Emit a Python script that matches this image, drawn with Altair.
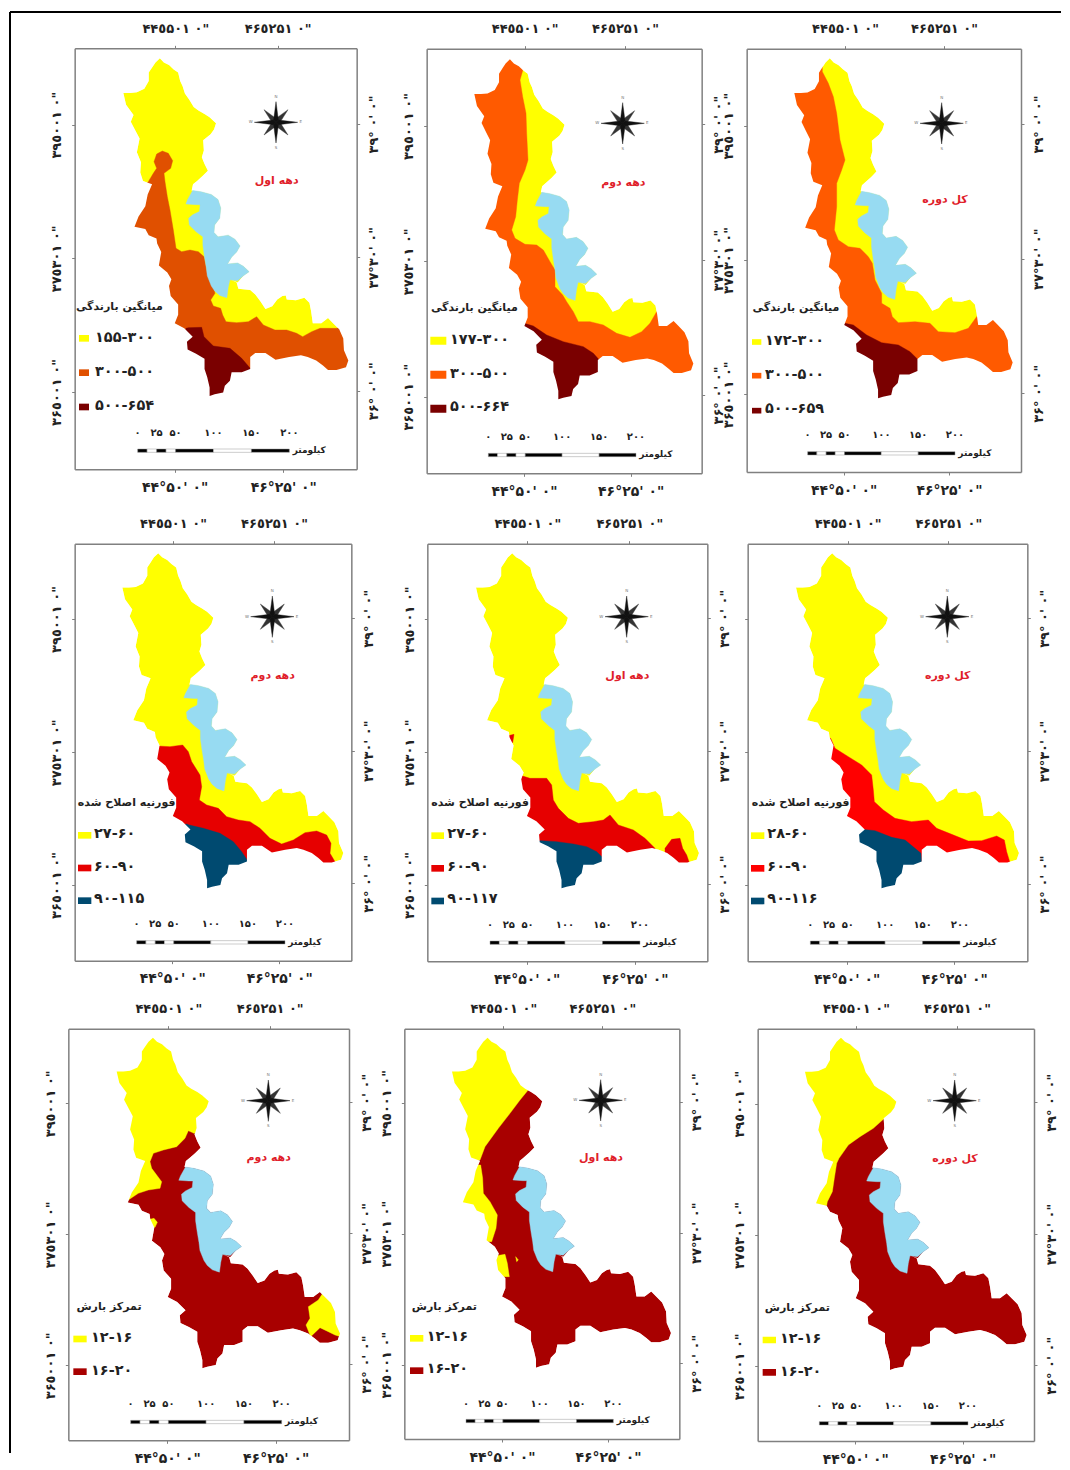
import json
import altair as alt
import pandas as pd

FONT = "DejaVu Sans"

OUTLINE = [(318,158),(330,170),(345,178),(358,190),(372,200),(378,225),(385,240),(392,262),(405,280),(418,302),(432,312),(450,322),(465,332),(484,350),(478,368),(468,382),(446,400),(448,430),(442,450),(450,470),(460,490),(445,505),(428,520),(416,530),(412,548),(440,552),(470,560),(490,575),(498,600),(495,630),(480,650),(478,672),(490,685),(520,680),(540,692),(555,712),(545,730),(530,745),(518,765),(548,762),(565,772),(582,788),(565,800),(548,820),(528,812),(545,820),(550,838),(585,842),(600,855),(615,875),(630,898),(650,890),(665,870),(680,860),(690,858),(693,870),(720,872),(745,865),(760,880),(765,905),(770,940),(795,940),(815,925),(830,940),(848,958),(860,985),(862,1020),(875,1050),(868,1070),(840,1078),(815,1078),(800,1065),(780,1050),(755,1040),(735,1035),(700,1040),(660,1048),(630,1028),(600,1028),(585,1040),(585,1075),(560,1085),(530,1085),(525,1110),(510,1125),(505,1145),(480,1150),(465,1155),(465,1130),(458,1100),(450,1075),(450,1045),(425,1030),(400,1018),(398,995),(415,980),(390,955),(362,940),(372,915),(372,885),(350,860),(345,830),(352,810),(340,790),(315,770),(322,730),(310,705),(308,690),(285,680),(275,662),(243,655),(255,625),(275,595),(282,560),(295,530),(268,520),(260,495),(262,465),(250,435),(258,395),(245,370),(232,345),(240,325),(218,295),(210,260),(230,260),(250,258),(272,248),(285,225),(285,200),(295,185),(305,170)]
LAKE = [(415,548),(440,552),(470,560),(490,575),(498,600),(495,630),(480,650),(478,672),(490,685),(520,680),(540,692),(555,712),(545,730),(530,745),(518,765),(548,762),(565,772),(582,788),(565,800),(548,815),(525,812),(520,835),(516,865),(495,858),(480,845),(470,830),(458,800),(455,775),(450,745),(445,710),(445,685),(425,670),(405,650),(403,630),(415,620),(435,610),(437,590),(425,590),(395,588),(400,575)]

YEL, LAKEC = "#ffff00", "#97dbf2"

TOP_LAB = ['۴۴٥۵۰۱ ۰"', '۴۶٥۲۵۱ ۰"']
BOT_LAB = ['۴۴°۵۰\' ۰"', '۴۶°۲۵\' ۰"']
LEFT_LAB = ['۳۹٥۰۰۱ ۰"', '۳۷٥۳۰۱ ۰"', '۳۶٥۰۰۱ ۰"']
RIGHT_LAB = ['۳۹°\u00a0۰\'\u00a0۰"', '۳۷°۳۰\'\u00a0۰"', '۳۶°\u00a0۰\'\u00a0۰"']
KM = [0, 12.5, 25, 37.5, 50, 100, 150, 200]
KM_LAB = [(0,"۰"),(25,"۲۵"),(50,"۵۰"),(100,"۱۰۰"),(150,"۱۵۰"),(200,"۲۰۰")]

T_RAIN, T_FOUR, T_CONC = "میانگین بارندگی", "فورنیه اصلاح شده", "تمرکز بارش"
D1, D2, DA = "دهه اول", "دهه دوم", "کل دوره"
NAME_RED = "#e0202a"

PANELS = [
 dict(origin=(0,0), frame=(224,1070,145,1408), anchors=(370,1045,175,1188),
      top=[526,833], bottom=[524,850], left=[374,775,1176], right=[372,772,1172],
      title=T_RAIN, title_xy=(358,922), name=D1, name_xy=(830,543), compass=(828,367),
      swatch_x=252, swatch_w=30, swatch_h=20, swatch_y=[1015,1118,1221],
      lab_x=285, lab_y=[1014,1116,1218], labels=["۱۵۵-۳۰۰","۳۰۰-۵۰۰","۵۰۰-۶۵۴"],
      colors=[YEL,"#e05000","#7a0000"], base=YEL,
      bar=(413,1352,1298,868),
      regions=[("#e05000",[[(487,453),(505,460),(518,482),(512,505),(492,520),(495,545),(502,590),(510,630),(520,690),(528,745),(545,755),(570,750),(595,755),(612,770),(622,820),(640,860),(645,880),(632,900),(640,918),(662,925),(668,945),(678,965),(710,968),(745,965),(770,950),(790,975),(825,990),(860,990),(890,1000),(908,1010),(935,995),(960,985),(1010,985),(1060,970),(1068,1100),(1068,1200),(300,1200),(300,560),(430,560),(445,545),(460,520),(470,505),(462,485),(470,462)]]),
               ("#7a0000",[[(565,983),(605,982),(612,1010),(640,1038),(690,1045),(725,1075),(755,1110),(770,1250),(500,1250),(500,1040),(540,1040),(558,985)]])]),
 dict(origin=(370,0), frame=(170,995,146,1420), anchors=(313,970,178,1198),
      top=[464,765], bottom=[462,782], left=[378,784,1190], right=[373,780,1185],
      title=T_RAIN, title_xy=(313,925), name=D2, name_xy=(760,550), compass=(758,370),
      swatch_x=205, swatch_w=48, swatch_h=24, swatch_y=[1022,1124,1226],
      lab_x=240, lab_y=[1020,1122,1222], labels=["۱۷۷-۳۰۰","۳۰۰-۵۰۰","۵۰۰-۶۶۴"],
      colors=[YEL,"#ff5a00","#7a0000"], base=YEL,
      bar=(355,1365,1312,798),
      regions=[("#ff5a00",[[(458,212),(450,240),(458,290),(468,340),(470,400),(474,480),(465,510),(448,550),(442,600),(437,650),(425,690),(435,715),(465,733),(500,735),(520,750),(540,785),(555,810),(555,860),(578,885),(590,905),(610,935),(625,965),(660,965),(700,975),(740,1000),(780,1012),(815,995),(840,970),(860,935),(990,900),(990,1200),(300,1200),(300,150),(458,150)]]),
               ("#7a0000",[[(463,970),(490,978),(530,1005),(580,1025),(640,1040),(670,1060),(688,1080),(700,1250),(400,1250),(400,1000),(440,985)]])]),
 dict(origin=(735,0), frame=(35,858,146,1416), anchors=(178,833,175,1195),
      top=[330,627], bottom=[326,642], left=[377,780,1183], right=[372,776,1180],
      title=T_RAIN, title_xy=(183,925), name=DA, name_xy=(630,600), compass=(620,370),
      swatch_x=65, swatch_w=28, swatch_h=17, swatch_y=[1026,1127,1232],
      lab_x=90, lab_y=[1024,1125,1228], labels=["۱۷۲-۳۰۰","۳۰۰-۵۰۰","۵۰۰-۶۵۹"],
      colors=[YEL,"#ff5a00","#7a0000"], base=YEL,
      bar=(218,1360,1306,660),
      regions=[("#ff5a00",[[(262,215),(280,250),(295,290),(305,340),(315,420),(330,480),(320,510),(305,550),(305,620),(298,690),(310,720),(340,740),(375,745),(400,770),(412,790),(420,840),(440,880),(440,910),(465,925),(472,950),(490,968),(540,965),(585,970),(610,995),(660,998),(700,985),(725,950),(855,900),(855,1200),(100,1200),(100,150),(262,150)]]),
               ("#7a0000",[[(330,970),(355,975),(395,1005),(440,1028),(490,1035),(525,1055),(550,1080),(570,1250),(300,1250),(300,1000)]])]),
 dict(origin=(0,500), frame=(224,1054,131,1382), anchors=(367,1030,160,1165),
      top=[519,822], bottom=[517,838], left=[357,757,1155], right=[355,752,1150],
      title=T_FOUR, title_xy=(380,908), name=D2, name_xy=(818,527), compass=(817,350),
      swatch_x=254, swatch_w=40, swatch_h=20, swatch_y=[1006,1104,1202],
      lab_x=282, lab_y=[1002,1100,1198], labels=["۲۷-۶۰","۶۰-۹۰","۹۰-۱۱۵"],
      colors=[YEL,"#e60000","#004a70"], base=YEL,
      bar=(410,1327,1273,855),
      regions=[("#e60000",[[(473,738),(510,740),(548,735),(565,755),(575,785),(600,825),(605,860),(598,900),(620,915),(655,925),(680,950),(715,960),(750,965),(780,985),(810,1015),(845,1032),(880,1020),(915,998),(950,993),(980,1005),(993,1030),(990,1060),(1005,1085),(1005,1250),(300,1250),(300,738)]]),
               ("#004a70",[[(568,975),(610,985),(660,1000),(700,1025),(725,1055),(745,1085),(760,1250),(450,1250),(450,1000),(560,972)]])]),
 dict(origin=(370,500), frame=(172,1012,131,1384), anchors=(318,987,160,1165),
      top=[472,778], bottom=[470,795], left=[358,757,1155], right=[355,753,1152],
      title=T_FOUR, title_xy=(330,908), name=D1, name_xy=(772,527), compass=(770,350),
      swatch_x=203, swatch_w=38, swatch_h=20, swatch_y=[1007,1105,1203],
      lab_x=232, lab_y=[1002,1100,1198], labels=["۲۷-۶۰","۶۰-۹۰","۹۰-۱۱۷"],
      colors=[YEL,"#e60000","#004a70"], base=YEL,
      bar=(360,1328,1275,810),
      regions=[("#e60000",[[(432,703),(428,728),(405,722),(410,708)],
                           [(458,828),(480,835),(530,835),(545,855),(550,900),(565,925),(595,955),(625,970),(670,965),(700,960),(720,945),(745,975),(790,990),(825,1015),(855,1045),(855,1250),(300,1250),(300,828)],
                           [(885,1045),(905,1018),(930,1015),(938,1045),(950,1065),(958,1088),(958,1150),(885,1150)]]),
               ("#004a70",[[(515,1022),(560,1025),(610,1032),(650,1040),(680,1055),(700,1075),(720,1250),(450,1250),(450,1040),(510,1022)]])]),
 dict(origin=(735,500), frame=(38,877,131,1384), anchors=(183,852,160,1165),
      top=[338,640], bottom=[335,658], left=[358,757,1155], right=[355,753,1152],
      title=T_FOUR, title_xy=(197,908), name=DA, name_xy=(638,527), compass=(637,350),
      swatch_x=68, swatch_w=40, swatch_h=20, swatch_y=[1007,1105,1203],
      lab_x=97, lab_y=[1002,1100,1198], labels=["۲۸-۶۰","۶۰-۹۰","۹۰-۱۱۶"],
      colors=[YEL,"#ff0000","#004a70"], base=YEL, no_left=True,
      bar=(226,1328,1275,675),
      regions=[("#ff0000",[[(287,715),(300,745),(340,770),(380,795),(410,825),(415,870),(418,905),(445,930),(480,955),(530,965),(580,960),(605,985),(650,1003),(700,1023),(740,1022),(785,1008),(808,1020),(815,1055),(825,1088),(825,1250),(150,1250),(150,715)]]),
               ("#004a70",[[(380,988),(420,992),(470,1012),(510,1020),(540,1045),(558,1060),(575,1250),(300,1250),(300,1020),(375,988)]])]),
 dict(origin=(0,985), frame=(205,1047,131,1366), anchors=(350,1020,158,1150),
      top=[505,809], bottom=[502,827], left=[355,748,1141], right=[352,745,1137],
      title=T_CONC, title_xy=(327,967), name=D2, name_xy=(806,520), compass=(805,347),
      swatch_x=240, swatch_w=40, swatch_h=20, swatch_y=[1062,1160],
      lab_x=273, lab_y=[1060,1157], labels=["۱۲-۱۶","۱۶-۲۰"],
      colors=[YEL,"#a80000"], base="#a80000",
      bar=(392,1311,1258,845),
      regions=[(YEL,[[(700,445),(582,445),(565,437),(555,460),(530,485),(490,495),(460,505),(450,530),(455,550),(485,590),(480,610),(445,615),(415,625),(385,645),(300,645),(300,135),(700,135)],
                     [(462,700),(472,712),(465,727),(440,722),(440,705)],
                     [(970,922),(955,945),(925,965),(930,1000),(918,1020),(932,1055),(960,1028),(985,1040),(1005,1050),(1022,1055),(1040,1055),(1040,900),(970,900)]])]),
 dict(origin=(370,985), frame=(103,928,131,1362), anchors=(246,903,158,1148),
      top=[400,697], bottom=[396,714], left=[354,746,1139], right=[350,743,1135],
      title=T_CONC, title_xy=(223,965), name=D1, name_xy=(693,518), compass=(692,346),
      swatch_x=140, swatch_w=40, swatch_h=20, swatch_y=[1060,1157],
      lab_x=170, lab_y=[1057,1153], labels=["۱۲-۱۶","۱۶-۲۰"],
      colors=[YEL,"#a80000"], base="#a80000",
      bar=(288,1308,1256,730),
      regions=[(YEL,[[(477,312),(450,345),(420,385),(385,430),(345,485),(330,525),(200,525),(200,135),(600,135),(600,280),(500,280)],
                     [(332,540),(338,580),(340,625),(360,650),(382,690),(378,730),(365,770),(200,770),(200,540)],
                     [(380,812),(405,808),(412,835),(418,875),(300,875),(300,812)],
                     [(437,815),(445,825),(440,830)]])]),
 dict(origin=(735,985), frame=(68,897,131,1368), anchors=(210,875,158,1155),
      top=[363,666], bottom=[361,683], left=[356,750,1144], right=[352,747,1141],
      title=T_CONC, title_xy=(187,970), name=DA, name_xy=(660,522), compass=(659,347),
      swatch_x=103, swatch_w=40, swatch_h=20, swatch_y=[1065,1162],
      lab_x=135, lab_y=[1062,1160], labels=["۱۲-۱۶","۱۶-۲۰"],
      colors=[YEL,"#a80000"], base="#a80000",
      bar=(253,1315,1262,699),
      regions=[(YEL,[[(446,402),(415,430),(375,455),(340,480),(312,520),(305,535),(298,580),(292,620),(277,650),(275,662),(100,662),(100,135),(600,135),(600,402)]])]),
]

COMPASS_LONG = [[(0,-62),(7,-8),(0,0),(-7,-8)],[(65,0),(8,7),(0,0),(8,-7)],[(0,62),(7,8),(0,0),(-7,8)],[(-65,0),(-8,7),(0,0),(-8,-7)]]
COMPASS_DIAG = [[(36,-38),(3,-14),(0,0),(14,-3)],[(36,38),(14,3),(0,0),(3,14)],[(-36,38),(-3,14),(0,0),(-14,3)],[(-36,-38),(-14,-3),(0,0),(-3,-14)]]
COMPASS_LET = [("N",0,-76),("E",74,0),("S",0,76),("W",-76,0)]

COL_X = [68.0, 400.0, 740.0]
ROW_Y = [48.0, 543.0, 1028.0]
CELL_W = [332, 340, 318]
CELL_H = [495, 485, 426]
LINE_END_X, LINE_END_Y = 1061, 1453


def expr(values, labels):
    out = json.dumps(labels[-1], ensure_ascii=False)
    for v, l in zip(values[:-1][::-1], labels[:-1][::-1]):
        out = f"datum.value=={v}?{json.dumps(l, ensure_ascii=False)}:{out}"
    return out


def make_panel(p, idx):
    col, row = idx % 3, idx // 3
    ox, oy = p["origin"]
    L, R, T, B = p["frame"]
    x0 = ox + L / 3 - COL_X[col]
    x1 = ox + R / 3 - COL_X[col]
    y0 = oy + T / 3 - ROW_Y[row]
    y1 = oy + B / 3 - ROW_Y[row]
    cw, ch = CELL_W[col], CELL_H[row]
    xs = alt.Scale(domain=[L, R], range=[x0, x1], nice=False, zero=False)
    ys = alt.Scale(domain=[T, B], range=[y0, y1], nice=False, zero=False)

    W, E, N, S = p["anchors"]
    def tr(pts):
        return [(W + (u - 210) * (E - W) / 665, N + (v - 158) * (S - N) / 997) for u, v in pts]
    outline = tr(OUTLINE)
    lake = tr(LAKE)

    X = alt.X("x:Q", scale=xs, axis=None)
    Y = alt.Y("y:Q", scale=ys, axis=None)

    def polys(lst, color):
        rows = [dict(x=a, y=b, pid=k, i=i) for k, poly in enumerate(lst) for i, (a, b) in enumerate(poly)]
        return alt.Chart(pd.DataFrame(rows)).mark_line(
            fill=color, stroke=color, strokeWidth=0.4, interpolate="linear-closed"
        ).encode(x=X, y=Y, detail="pid:N", order="i:Q")

    def texts(rows, **kw):
        return alt.Chart(pd.DataFrame(rows)).mark_text(font=FONT, **kw).encode(x=X, y=Y, text="t:N")

    layers = []
    layers.append(polys([outline], p["base"]))
    for color, lst in p["regions"]:
        layers.append(polys(lst, color))
    mask = [(L, T), (L, B), (R, B), (R, T), (L, T)] + outline + [outline[0]]
    layers.append(alt.Chart(pd.DataFrame([dict(x=a, y=b, i=i) for i, (a, b) in enumerate(mask)])).mark_line(
        fill="white", strokeWidth=0, interpolate="linear-closed").encode(x=X, y=Y, order="i:Q"))
    layers.append(polys([lake], LAKEC))

    # legend
    sw = pd.DataFrame([dict(x=p["swatch_x"] - p["swatch_w"] / 2, x2=p["swatch_x"] + p["swatch_w"] / 2,
                            y=yy - p["swatch_h"] / 2, y2=yy + p["swatch_h"] / 2, c=c)
                       for yy, c in zip(p["swatch_y"], p["colors"])])
    layers.append(alt.Chart(sw).mark_rect().encode(x=X, x2="x2:Q", y=Y, y2="y2:Q", color=alt.Color("c:N", scale=None)))
    layers.append(texts([dict(x=p["lab_x"], y=yy, t=t) for yy, t in zip(p["lab_y"], p["labels"])],
                        align="left", baseline="middle", fontSize=14.5, fontWeight="bold", color="#222222"))
    layers.append(texts([dict(x=p["title_xy"][0], y=p["title_xy"][1], t=p["title"])],
                        align="center", baseline="middle", fontSize=11, fontWeight="bold", color="#222222"))
    layers.append(texts([dict(x=p["name_xy"][0], y=p["name_xy"][1], t=p["name"])],
                        align="center", baseline="middle", fontSize=11, fontWeight="bold", color=NAME_RED))

    # compass
    cx, cy = p["compass"]
    shift = lambda lst: [[(cx + a, cy + b) for a, b in poly] for poly in lst]
    layers.append(polys(shift(COMPASS_DIAG), "#333333"))
    layers.append(polys(shift(COMPASS_LONG), "#111111"))
    layers.append(texts([dict(x=cx + a, y=cy + b, t=t) for t, a, b in COMPASS_LET],
                        align="center", baseline="middle", fontSize=4, color="#777777"))

    # scale bar
    bx, by, ly, bend = p["bar"]
    k = (bend - bx) / 200
    seg = pd.DataFrame([dict(x=bx + k * a, x2=bx + k * b, y=by - 5, y2=by + 5, c="#000000" if n % 2 == 0 else "#ffffff")
                        for n, (a, b) in enumerate(zip(KM[:-1], KM[1:]))])
    layers.append(alt.Chart(seg).mark_rect(stroke="#999999", strokeWidth=0.5).encode(
        x=X, x2="x2:Q", y=Y, y2="y2:Q", color=alt.Color("c:N", scale=None)))
    layers.append(texts([dict(x=bx + k * km, y=ly, t=t) for km, t in KM_LAB],
                        align="center", baseline="middle", fontSize=10, fontWeight="bold", color="#222222"))
    layers.append(texts([dict(x=bend + 10, y=by - 2, t="کیلومتر")],
                        align="left", baseline="middle", fontSize=9, fontWeight="bold", color="#222222"))

    common = dict(title=None, grid=False, domainColor="#808080", domainWidth=1.5, tickColor="#808080",
                  tickSize=3, tickWidth=1, labelFont=FONT, labelFontWeight="bold",
                  labelColor="#222222", labelOverlap=False, labelFlush=False, zindex=1)
    one = pd.DataFrame([dict(x=L, y=T)])
    lbl_left = dict(labelExpr=expr(p["left"], LEFT_LAB))
    if p.get("no_left"):
        lbl_left = dict(labels=False)
    a1 = alt.Chart(one).mark_point(opacity=0).encode(
        x=alt.X("x:Q", scale=xs, axis=alt.Axis(orient="bottom", values=p["bottom"], labelExpr=expr(p["bottom"], BOT_LAB),
                                               offset=y1 - ch, labelPadding=8, labelFontSize=14, **common)),
        y=alt.Y("y:Q", scale=ys, axis=alt.Axis(orient="left", values=p["left"], offset=-x0, labelAngle=270,
                                               labelPadding=8, labelFontSize=13, **lbl_left, **common)),
    )
    a2 = alt.Chart(one).mark_point(opacity=0).encode(
        x=alt.X("x:Q", scale=xs, axis=alt.Axis(orient="top", values=p["top"], labelExpr=expr(p["top"], TOP_LAB),
                                               offset=-y0, labelPadding=10, labelFontSize=13, **common)),
        y=alt.Y("y:Q", scale=ys, axis=alt.Axis(orient="right", values=p["right"], labelExpr=expr(p["right"], RIGHT_LAB),
                                               offset=x1 - cw, labelAngle=270, labelPadding=8, labelFontSize=13, **common)),
    )
    layers += [a1, a2]

    if idx == 0:
        rx = lambda page: page - COL_X[0]
        ry = lambda page: page - ROW_Y[0]
        layers.append(alt.Chart(one).mark_rule(color="black", strokeWidth=2).encode(
            x=alt.value(rx(10)), x2=alt.value(rx(LINE_END_X)), y=alt.value(ry(12))))
        layers.append(alt.Chart(one).mark_rule(color="black", strokeWidth=2).encode(
            x=alt.value(rx(10)), y=alt.value(ry(12)), y2=alt.value(ry(LINE_END_Y))))

    return alt.layer(*layers).resolve_scale(x="independent", y="independent").properties(width=cw, height=ch)


chart = alt.concat(*[make_panel(p, i) for i, p in enumerate(PANELS)], columns=3, spacing=0, bounds="flush").properties(
    padding={"left": 1, "top": 3, "right": 0, "bottom": 0}
).configure_view(stroke=None)

chart.save("out.html", embed_options={"renderer": "svg", "actions": False})
